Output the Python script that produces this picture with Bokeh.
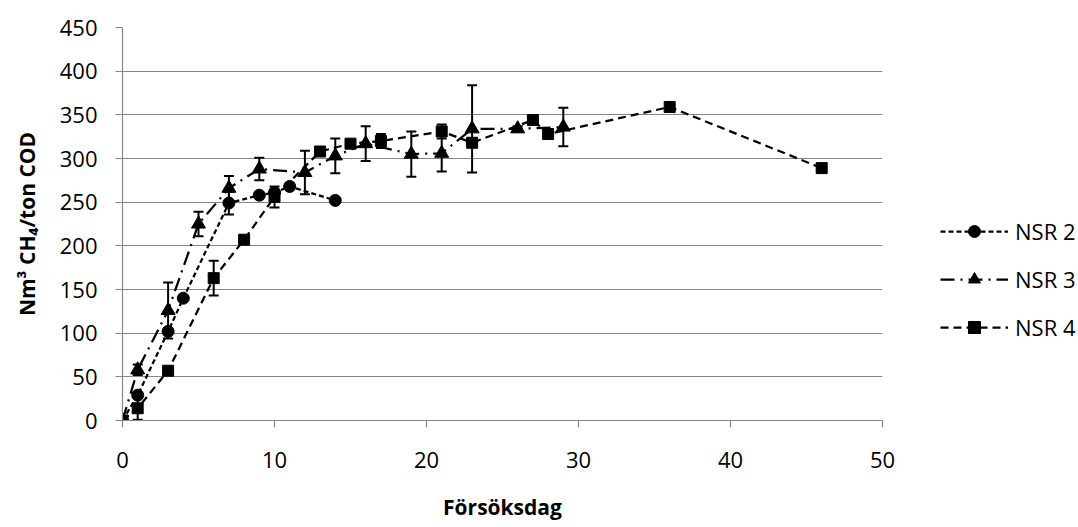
from bokeh.plotting import figure
from bokeh.layouts import row
from bokeh.models import Range1d, Legend, LegendItem, FixedTicker
from bokeh.embed import file_html
from bokeh.resources import INLINE

# ---- data ----
nsr2_days = [0, 1, 3, 4, 7, 9, 10, 11, 14]
nsr2_vals = [0, 29, 102, 140, 249, 258, 261, 268, 252]
nsr2_err = [0, 0, 0, 0, 13, 0, 0, 0, 0]

nsr3_days = [0, 1, 3, 5, 7, 9, 12, 14, 16, 19, 21, 23, 26, 29]
nsr3_vals = [0, 58, 126, 225, 266, 288, 284, 303, 317, 305, 306, 334, 334, 336]
nsr3_err = [0, 6, 32, 14, 14, 13, 25, 20, 20, 26, 21, 50, 3, 22]

nsr4_days = [0, 1, 3, 6, 8, 10, 13, 15, 17, 21, 23, 27, 28, 36, 46]
nsr4_vals = [0, 14, 57, 163, 207, 256, 308, 317, 320, 331, 318, 344, 328, 359, 289]
nsr4_err = [0, 13, 0, 20, 0, 12, 0, 0, 8, 8, 0, 0, 0, 0, 0]

series_names = ["NSR 2", "NSR 3", "NSR 4"]
x_ticks = [0, 10, 20, 30, 40, 50]
y_ticks = [0, 50, 100, 150, 200, 250, 300, 350, 400, 450]

FONT = "Open Sans"
GRID = "#868686"

STYLES = [
    dict(line_dash="5 3", marker="circle", size=12),
    dict(line_dash="14 6 2 6", marker="triangle", size=14),
    dict(line_dash="8 5", marker="square", size=11),
]

p = figure(width=896, height=527, x_range=Range1d(0, 50), y_range=Range1d(0, 450),
           output_backend="svg", toolbar_location=None,
           min_border_left=122, min_border_right=14, min_border_top=27, min_border_bottom=107)
p.outline_line_color = None
p.background_fill_color = "white"
p.border_fill_color = "white"

p.xgrid.grid_line_color = None
p.ygrid.grid_line_color = GRID
p.ygrid.grid_line_width = 1.2
p.ygrid.ticker = FixedTicker(ticks=y_ticks)

p.xaxis.ticker = FixedTicker(ticks=x_ticks)
p.yaxis.ticker = FixedTicker(ticks=y_ticks)
for ax in (p.xaxis[0], p.yaxis[0]):
    ax.axis_line_color = GRID
    ax.axis_line_width = 1.2
    ax.major_tick_line_color = GRID
    ax.major_tick_line_width = 1.2
    ax.major_tick_in = 0
    ax.major_tick_out = 7
    ax.minor_tick_line_color = None
    ax.major_label_text_font = FONT
    ax.major_label_text_font_size = "22px"
    ax.major_label_text_color = "#000000"
    ax.axis_label_text_font = FONT
    ax.axis_label_text_font_style = "bold"
    ax.axis_label_text_color = "#000000"

p.xaxis.major_label_standoff = 24
p.xaxis.axis_label = "Försöksdag"
p.xaxis.axis_label_text_font_size = "21px"
p.xaxis.axis_label_standoff = 22

p.yaxis.major_label_standoff = 18
p.yaxis.axis_label = "Nm³ CH₄/ton COD"
p.yaxis.axis_label_text_font_size = "21px"
p.yaxis.axis_label_standoff = 16


def errorbars(days, vals, errs):
    xs = [d for d, e in zip(days, errs) if e > 0]
    lo = [v - e for v, e in zip(vals, errs) if e > 0]
    hi = [v + e for v, e in zip(vals, errs) if e > 0]
    p.segment(x0=xs, y0=lo, x1=xs, y1=hi, line_color="black", line_width=2)
    p.scatter(x=xs + xs, y=lo + hi, marker="dash", size=10, line_color="black", line_width=2)


series = [(nsr2_days, nsr2_vals, nsr2_err), (nsr3_days, nsr3_vals, nsr3_err),
          (nsr4_days, nsr4_vals, nsr4_err)]

for d, v, e in series:
    errorbars(d, v, e)

for (d, v, e), st in zip(series, STYLES):
    p.line(d, v, line_color="black", line_width=2.25, line_dash=st["line_dash"])
    p.scatter(d, v, marker=st["marker"], size=st["size"], color="black")

# ---- legend panel (separate canvas to the right of the plot) ----
lg = figure(width=182, height=527, x_range=Range1d(0, 1), y_range=Range1d(0, 1),
            output_backend="svg", toolbar_location=None,
            x_axis_type=None, y_axis_type=None,
            min_border_left=0, min_border_right=0, min_border_top=0, min_border_bottom=0)
lg.outline_line_color = None
lg.xgrid.grid_line_color = None
lg.ygrid.grid_line_color = None
lg.background_fill_color = "white"
lg.border_fill_color = "white"

items = []
for name, st, (d, v, e) in zip(series_names, STYLES, series):
    # legend key renderers: same series, drawn on a range where they fall outside view
    lr = lg.line(d, [y + 1000 for y in v], line_color="black", line_width=2.25,
                 line_dash=st["line_dash"])
    mr = lg.scatter(d, [y + 1000 for y in v], marker=st["marker"], size=st["size"],
                    color="black")
    items.append(LegendItem(label=name, renderers=[lr, mr]))

legend = Legend(items=items, location=(44, 78))
legend.glyph_width = 68
legend.glyph_height = 30
legend.label_height = 30
legend.spacing = 18
legend.padding = 0
legend.margin = 0
legend.label_standoff = 7
legend.border_line_color = None
legend.background_fill_alpha = 0
legend.label_text_font = FONT
legend.label_text_font_size = "22px"
legend.label_text_color = "#000000"
lg.add_layout(legend, "center")

layout = row(p, lg, spacing=0)
open("out.html", "w").write(file_html(layout, INLINE))
